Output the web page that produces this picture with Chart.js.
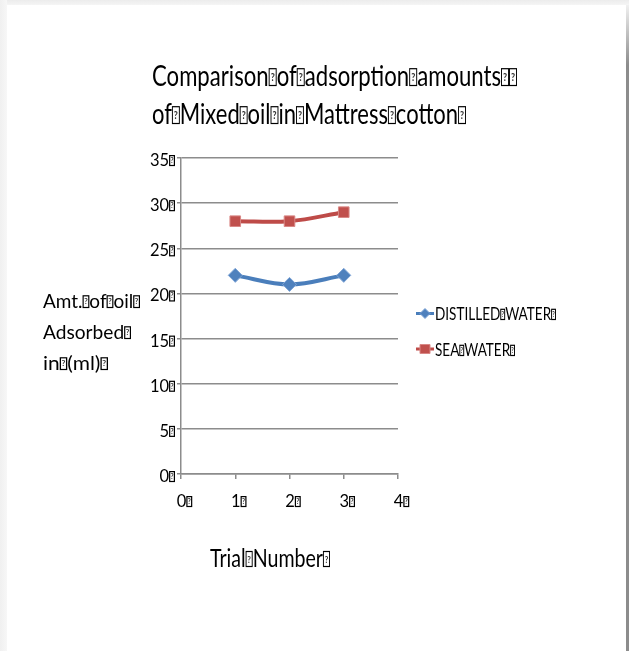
<!DOCTYPE html>
<html>
<head>
<meta charset="utf-8">
<script src="https://cdn.jsdelivr.net/npm/chart.js@4"></script>
<style>
  html, body { margin: 0; padding: 0; background: #ffffff; }
  #frame {
    position: relative; width: 629px; height: 651px; overflow: hidden;
    background:
      linear-gradient(to right, #f0f0f0 0px, #f7f7f7 7px, rgba(255,255,255,0) 7px),
      linear-gradient(to bottom, #ececec 0px, #f5f5f5 5px, #ffffff 5px);
  }
  #frame::after {
    content: ""; position: absolute; right: 0; top: 5px; width: 3px; height: 646px;
    background: linear-gradient(to bottom, #f0f0f0 0px, #8c8c8c 60px, #8c8c8c 100%);
  }
  canvas { position: absolute; left: 0; top: 0; }
</style>
</head>
<body>
<div id="frame"><canvas id="c" width="629" height="651"></canvas></div>
<script>
// Placeholder glyph used by the source document in place of spaces
const BOX = '\uF020';
const FONT = 'Lato, "Open Sans", sans-serif';

const titleLines = ['Comparison' + BOX + 'of' + BOX + 'adsorption' + BOX + 'amounts' + BOX + BOX,
                    'of' + BOX + 'Mixed' + BOX + 'oil' + BOX + 'in' + BOX + 'Mattress' + BOX + 'cotton' + BOX];
const yTitleLines = ['Amt.' + BOX + 'of' + BOX + 'oil' + BOX, 'Adsorbed' + BOX, 'in' + BOX + '(ml)' + BOX];
const xTitle = 'Trial' + BOX + 'Number' + BOX;

const trials = [1, 2, 3];
const distilledWater = [22, 21, 22];
const seaWater = [28, 28, 29];
const seriesNames = ['DISTILLED' + BOX + 'WATER' + BOX, 'SEA' + BOX + 'WATER' + BOX];
const xTickValues = [0, 1, 2, 3, 4];
const yTickValues = [0, 5, 10, 15, 20, 25, 30, 35];

const pts = (ys) => trials.map((t, i) => ({ x: t, y: ys[i] }));

// Draws text, rendering each BOX as a small outlined box with a '?' in it.
// If width is given, the run is squeezed horizontally to that width.
function drawRich(ctx, text, x, y, size, width, align) {
  ctx.save();
  ctx.font = size + 'px ' + FONT;
  ctx.textBaseline = 'alphabetic';
  ctx.textAlign = 'left';
  const bw = size * 0.36, bh = size * 0.6;
  const parts = text.split(BOX);
  let natural = 0;
  parts.forEach((p, i) => { natural += ctx.measureText(p).width; if (i < parts.length - 1) natural += bw; });
  const sx = width ? width / natural : 1;
  const total = natural * sx;
  let x0 = x;
  if (align === 'center') x0 = x - total / 2;
  else if (align === 'right') x0 = x - total;
  ctx.translate(x0, y);
  ctx.scale(sx, 1);
  let cx = 0;
  parts.forEach((p, i) => {
    ctx.fillStyle = '#000';
    ctx.font = size + 'px ' + FONT;
    ctx.fillText(p, cx, 0);
    cx += ctx.measureText(p).width;
    if (i < parts.length - 1) {
      ctx.strokeStyle = '#000';
      ctx.lineWidth = 1.2;
      ctx.strokeRect(cx + 0.6, -bh - 0.5, bw - 1.2, bh);
      ctx.font = 'bold ' + (size * 0.4) + 'px ' + FONT;
      ctx.textAlign = 'center';
      ctx.fillStyle = '#333';
      ctx.fillText('?', cx + bw / 2, -bh * 0.3);
      ctx.textAlign = 'left';
      cx += bw;
    }
  });
  ctx.restore();
}

const textPlugin = {
  id: 'texts',
  afterDraw(chart) {
    const ctx = chart.ctx;
    const xs = chart.scales.x, ys = chart.scales.y;

    drawRich(ctx, titleLines[0], 152, 86, 28, 365, 'left');
    drawRich(ctx, titleLines[1], 152, 124, 28, 314, 'left');

    drawRich(ctx, yTitleLines[0], 43, 308, 19.5, 97, 'left');
    drawRich(ctx, yTitleLines[1], 43, 339, 19.5, 88, 'left');
    drawRich(ctx, yTitleLines[2], 43, 370, 19.5, 65, 'left');

    drawRich(ctx, xTitle, 270, 567, 25, 120, 'center');

    // tick labels
    yTickValues.forEach(v => {
      drawRich(ctx, String(v) + BOX, 175, ys.getPixelForValue(v) + 8, 16.5, null, 'right');
    });
    xTickValues.forEach(v => {
      drawRich(ctx, String(v) + BOX, xs.getPixelForValue(v) + 3.5, 507, 16.5, null, 'center');
    });

    // legend
    const legendRows = [{ my: 313.5, by: 320, w: 121 }, { my: 349, by: 356, w: 80 }];
    chart.data.datasets.forEach((ds, i) => {
      const r = legendRows[i];
      ctx.save();
      ctx.strokeStyle = ds.borderColor;
      ctx.lineWidth = 3;
      ctx.beginPath(); ctx.moveTo(416, r.my); ctx.lineTo(434, r.my); ctx.stroke();
      ctx.fillStyle = ds.pointBackgroundColor;
      ctx.strokeStyle = ds.pointBorderColor;
      ctx.lineWidth = 1;
      ctx.beginPath();
      if (ds.pointStyle === 'rectRot') {
        ctx.moveTo(425, r.my - 5); ctx.lineTo(430, r.my); ctx.lineTo(425, r.my + 5); ctx.lineTo(420, r.my); ctx.closePath();
      } else {
        ctx.rect(420, r.my - 4.5, 10, 9);
      }
      ctx.fill(); ctx.stroke();
      ctx.restore();
      drawRich(ctx, ds.label, 435, r.by, 17, r.w, 'left');
    });
  }
};

new Chart(document.getElementById('c'), {
  type: 'line',
  data: {
    datasets: [
      {
        label: seriesNames[0], data: pts(distilledWater),
        borderColor: '#4a7ebb', borderWidth: 4, tension: 0.35,
        pointStyle: 'rectRot', pointRadius: 7,
        pointBackgroundColor: '#4f81bd', pointBorderColor: '#7ea4d6', pointBorderWidth: 1
      },
      {
        label: seriesNames[1], data: pts(seaWater),
        borderColor: '#be4b48', borderWidth: 4, tension: 0.35,
        pointStyle: 'rect', pointRadius: 7.5,
        pointBackgroundColor: '#c0504d', pointBorderColor: '#d98886', pointBorderWidth: 1
      }
    ]
  },
  options: {
    responsive: false, animation: false,
    layout: { padding: { left: 121, top: 158, right: 231, bottom: 137 } },
    plugins: { legend: { display: false }, title: { display: false }, tooltip: { enabled: false } },
    scales: {
      x: {
        type: 'linear', min: xTickValues[0], max: xTickValues[xTickValues.length - 1],
        afterBuildTicks: (s) => { s.ticks = xTickValues.map(v => ({ value: v })); },
        afterFit: (s) => { s.height = 40; },
        border: { color: '#8c8c8c', width: 1.5 },
        grid: { drawOnChartArea: false, drawTicks: true, tickLength: 5, color: '#8c8c8c', lineWidth: 1.5 },
        ticks: { display: false }
      },
      y: {
        min: yTickValues[0], max: yTickValues[yTickValues.length - 1],
        afterBuildTicks: (s) => { s.ticks = yTickValues.map(v => ({ value: v })); },
        afterFit: (s) => { s.width = 60; },
        border: { color: '#8c8c8c', width: 1.5 },
        grid: { color: '#8c8c8c', lineWidth: 1.5, drawTicks: true, tickLength: 4 },
        ticks: { display: false }
      }
    }
  },
  plugins: [textPlugin]
});
</script>
</body>
</html>
